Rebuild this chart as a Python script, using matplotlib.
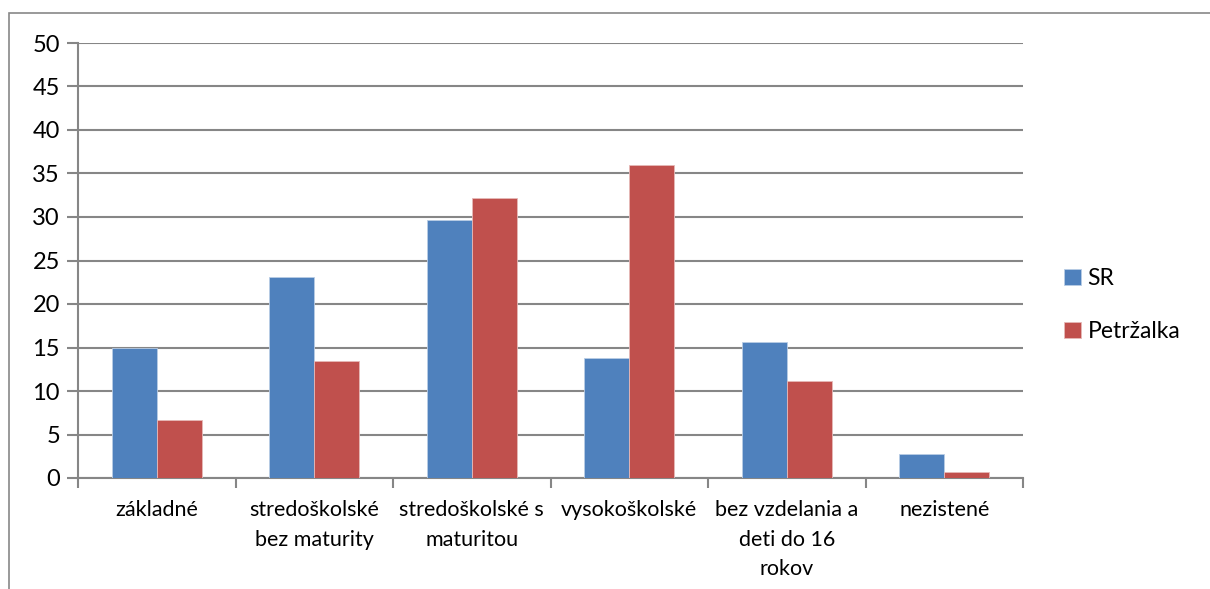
import matplotlib.pyplot as plt
import numpy as np
from matplotlib.patches import Rectangle

categories = ['základné', 'stredoškolské\nbez maturity', 'stredoškolské s\nmaturitou',
              'vysokoškolské', 'bez vzdelania a\ndeti do 16\nrokov', 'nezistené']
sr = [15.0, 23.1, 29.7, 13.8, 15.6, 2.8]
petrzalka = [6.7, 13.4, 32.2, 36.0, 11.1, 0.7]
series_names = ['SR', 'Petržalka']

plt.rcParams['font.family'] = ['Lato', 'DejaVu Sans']

fig = plt.figure(figsize=(12.1, 5.89), dpi=100)
ax = fig.add_axes([78/1210, 1 - 478/589, (1023-78)/1210, (478-43)/589])

x = np.arange(len(categories))
w = 0.286
ax.bar(x - w/2, sr, w, color='#4F81BD', edgecolor='#B9CDE5', linewidth=0.6, label=series_names[0], zorder=3)
ax.bar(x + w/2, petrzalka, w, color='#C0504D', edgecolor='#E6B9B8', linewidth=0.6, label=series_names[1], zorder=3)

ax.set_xlim(-0.5, len(categories) - 0.5)
ax.set_ylim(0, 50)
ax.set_yticks(range(0, 51, 5))
ax.yaxis.grid(True, color='#868686', linewidth=1.5, zorder=0)
ax.tick_params(axis='y', length=8, width=1.5, color='#868686', labelsize=17, pad=5)

ax.set_xticks(x)
ax.set_xticklabels(categories, fontsize=15.5, linespacing=1.6, va='top')
ax.set_xticks(np.arange(-0.5, len(categories)), minor=True)
ax.tick_params(axis='x', which='major', length=0, pad=16)
ax.tick_params(axis='x', which='minor', length=7, width=1.5, color='#868686')

for s in ['top', 'right']:
    ax.spines[s].set_visible(False)
for s in ['left', 'bottom']:
    ax.spines[s].set_color('#868686')
    ax.spines[s].set_linewidth(1.5)

fig.legend(loc='center left', bbox_to_anchor=(1043/1210, 1 - 305/589), frameon=False,
           fontsize=16.5, handlelength=0.75, handleheight=0.75, handletextpad=0.3,
           labelspacing=1.4)

fig.patches.append(Rectangle((9/1210, -0.1), 1.2, 1 - 13/589 + 0.1, transform=fig.transFigure,
                             fill=False, edgecolor='#888888', linewidth=1.2))

fig.savefig('out.png', dpi=100)
